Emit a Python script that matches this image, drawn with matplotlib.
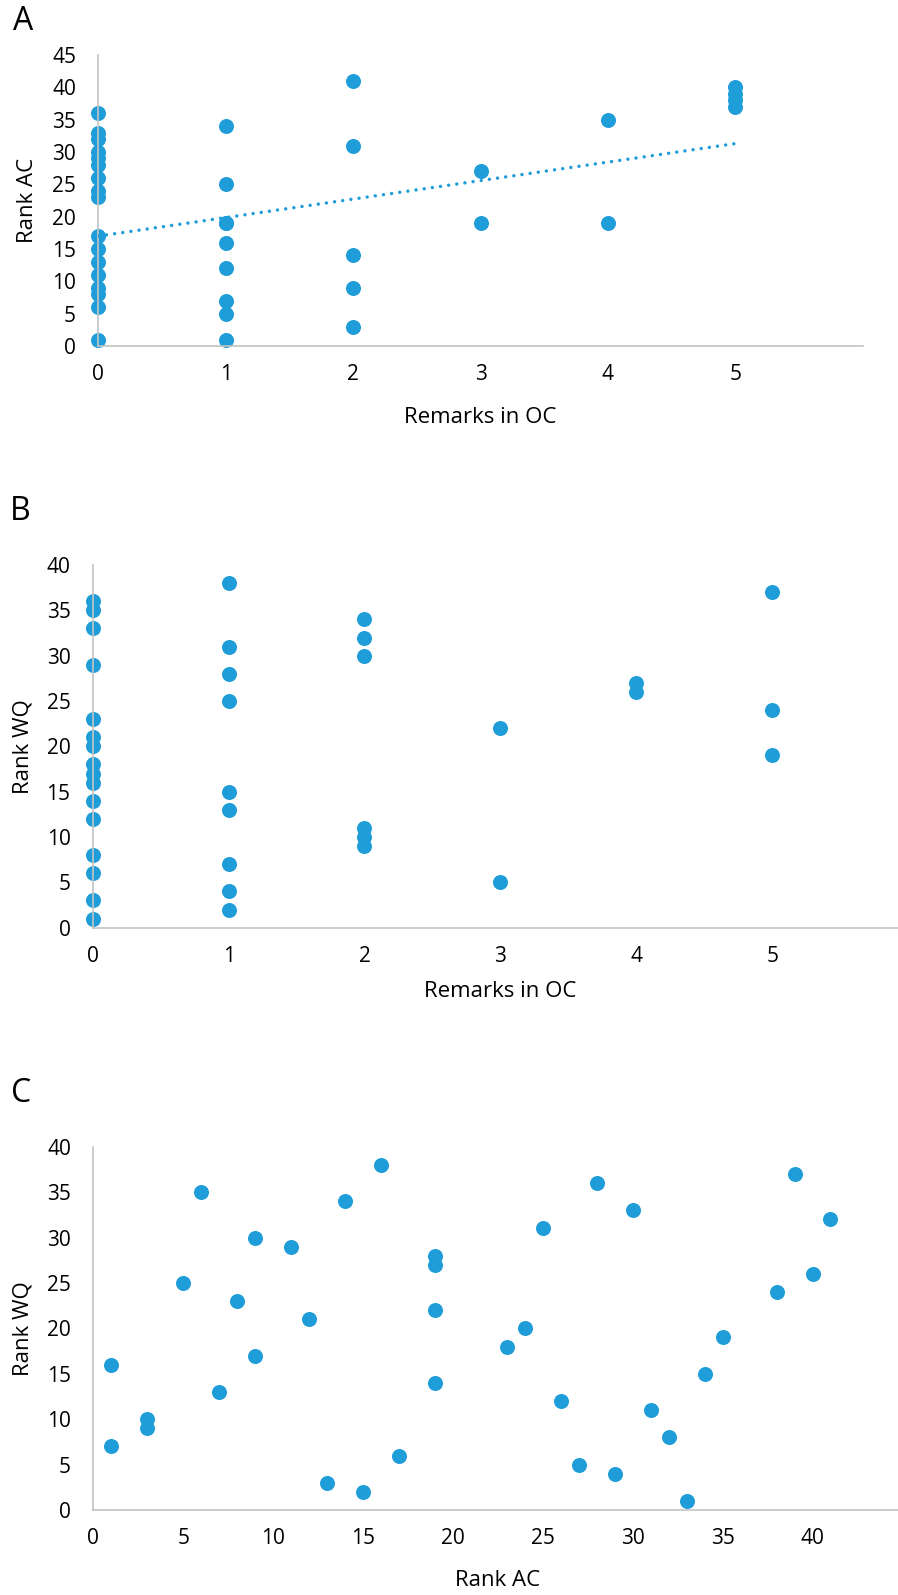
import matplotlib
matplotlib.use("Agg")
import matplotlib.pyplot as plt
import numpy as np

plt.rcParams['font.family'] = ['Open Sans', 'DejaVu Sans']

# ---------------- data ----------------
# Panel A: Remarks in OC vs Rank AC
a_remarks = [0]*17 + [1]*9 + [2]*5 + [3]*2 + [4]*2 + [5]*4
a_rank_ac = [36, 33, 32, 30, 29, 28, 26, 24, 23, 17, 15, 13, 11, 9, 8, 6, 1,
             34, 25, 19, 19, 16, 12, 7, 5, 1,
             41, 31, 14, 9, 3,
             27, 19,
             35, 19,
             40, 39, 38, 37]
# Linear trendline
trend_intercept = 17.0
trend_slope = 2.86
trend_x = [0, 5]

# Panel B: Remarks in OC vs Rank WQ
b_remarks = [0]*16 + [1]*9 + [2]*6 + [3]*2 + [4]*2 + [5]*3
b_rank_wq = [36, 35, 33, 29, 23, 21, 20, 18, 17, 16, 14, 12, 8, 6, 3, 1,
             38, 31, 28, 25, 15, 13, 7, 4, 2,
             34, 32, 30, 11, 10, 9,
             22, 5,
             27, 26,
             37, 24, 19]

# Panel C: Rank AC vs Rank WQ
c_rank_ac = [1, 1, 3, 3, 5, 6, 7, 8, 9, 9, 11, 12, 13, 14, 15, 16, 17,
             19, 19, 19, 19, 23, 24, 25, 26, 27, 28, 29, 30, 31, 32, 33,
             34, 35, 38, 39, 40, 41]
c_rank_wq = [16, 7, 10, 9, 25, 35, 13, 23, 30, 17, 29, 21, 3, 34, 2, 38, 6,
             28, 27, 22, 14, 18, 20, 31, 12, 5, 36, 4, 33, 11, 8, 1,
             15, 19, 24, 37, 26, 32]

# ---------------- style ----------------
DOT = '#1E9DD8'
SPINE = '#C4C4C4'
W, H = 898, 1595
fig = plt.figure(figsize=(W/100, H/100), dpi=100)


def make_axes(left, right, top, bottom):
    return fig.add_axes([left/W, 1 - bottom/H, (right-left)/W, (bottom-top)/H])


def style(ax, xlim, xticks, ylim, yticks, xlabel, ylabel, xlab_off, ylab_x):
    ax.set_xlim(*xlim)
    ax.set_ylim(*ylim)
    ax.set_xticks(xticks)
    ax.set_yticks(yticks)
    for s in ['top', 'right']:
        ax.spines[s].set_visible(False)
    for s in ['left', 'bottom']:
        ax.spines[s].set_color(SPINE)
        ax.spines[s].set_linewidth(1.2)
    ax.tick_params(axis='both', length=0, labelsize=15, colors='black')
    ax.tick_params(axis='y', pad=16)
    ax.tick_params(axis='x', pad=13)
    ax.set_xlabel(xlabel, fontsize=16)
    ax.set_ylabel(ylabel, fontsize=16)
    ax.xaxis.label.set_va('center')
    ax.yaxis.label.set_va('center')
    ax.xaxis.set_label_coords(xlab_off[0], xlab_off[1])
    ax.yaxis.set_label_coords(ylab_x, 0.5)
    ax.set_facecolor('none')


# Panel A
axA = make_axes(98.3, 862.7, 55, 346)
axA.plot(a_remarks, a_rank_ac, 'o', color=DOT, markersize=10.8,
         markeredgewidth=0, clip_on=False, zorder=2)
tx = np.array(trend_x, dtype=float)
axA.plot(tx, trend_intercept + trend_slope*tx, color=DOT, lw=2.5,
         linestyle=(0, (0.001, 2.37)), dash_capstyle='round', zorder=3)
style(axA, (0, 6), range(0, 6), (0, 45), range(0, 46, 5),
      'Remarks in OC', 'Rank AC', (0.5, -0.244), -0.092)

# Panel B
axB = make_axes(92.7, 908.1, 565, 927.7)
axB.plot(b_remarks, b_rank_wq, 'o', color=DOT, markersize=10.8,
         markeredgewidth=0, clip_on=False, zorder=2)
style(axB, (0, 6), range(0, 6), (0, 40), range(0, 41, 5),
      'Remarks in OC', 'Rank WQ', (0.5, -0.176), -0.086)

# Panel C
axC = make_axes(93.3, 902.4, 1146.7, 1510)
axC.plot(c_rank_ac, c_rank_wq, 'o', color=DOT, markersize=10.8,
         markeredgewidth=0, clip_on=False, zorder=2)
style(axC, (0, 45), range(0, 41, 5), (0, 40), range(0, 41, 5),
      'Rank AC', 'Rank WQ', (0.5, -0.195), -0.087)

# Panel letters
fig.text(23/W, 1 - 21.5/H, 'A', fontsize=23, ha='center', va='center')
fig.text(20/W, 1 - 511/H, 'B', fontsize=23, ha='center', va='center')
fig.text(21/W, 1 - 1094/H, 'C', fontsize=23, ha='center', va='center')

fig.savefig('out.png', dpi=100, facecolor='white')
